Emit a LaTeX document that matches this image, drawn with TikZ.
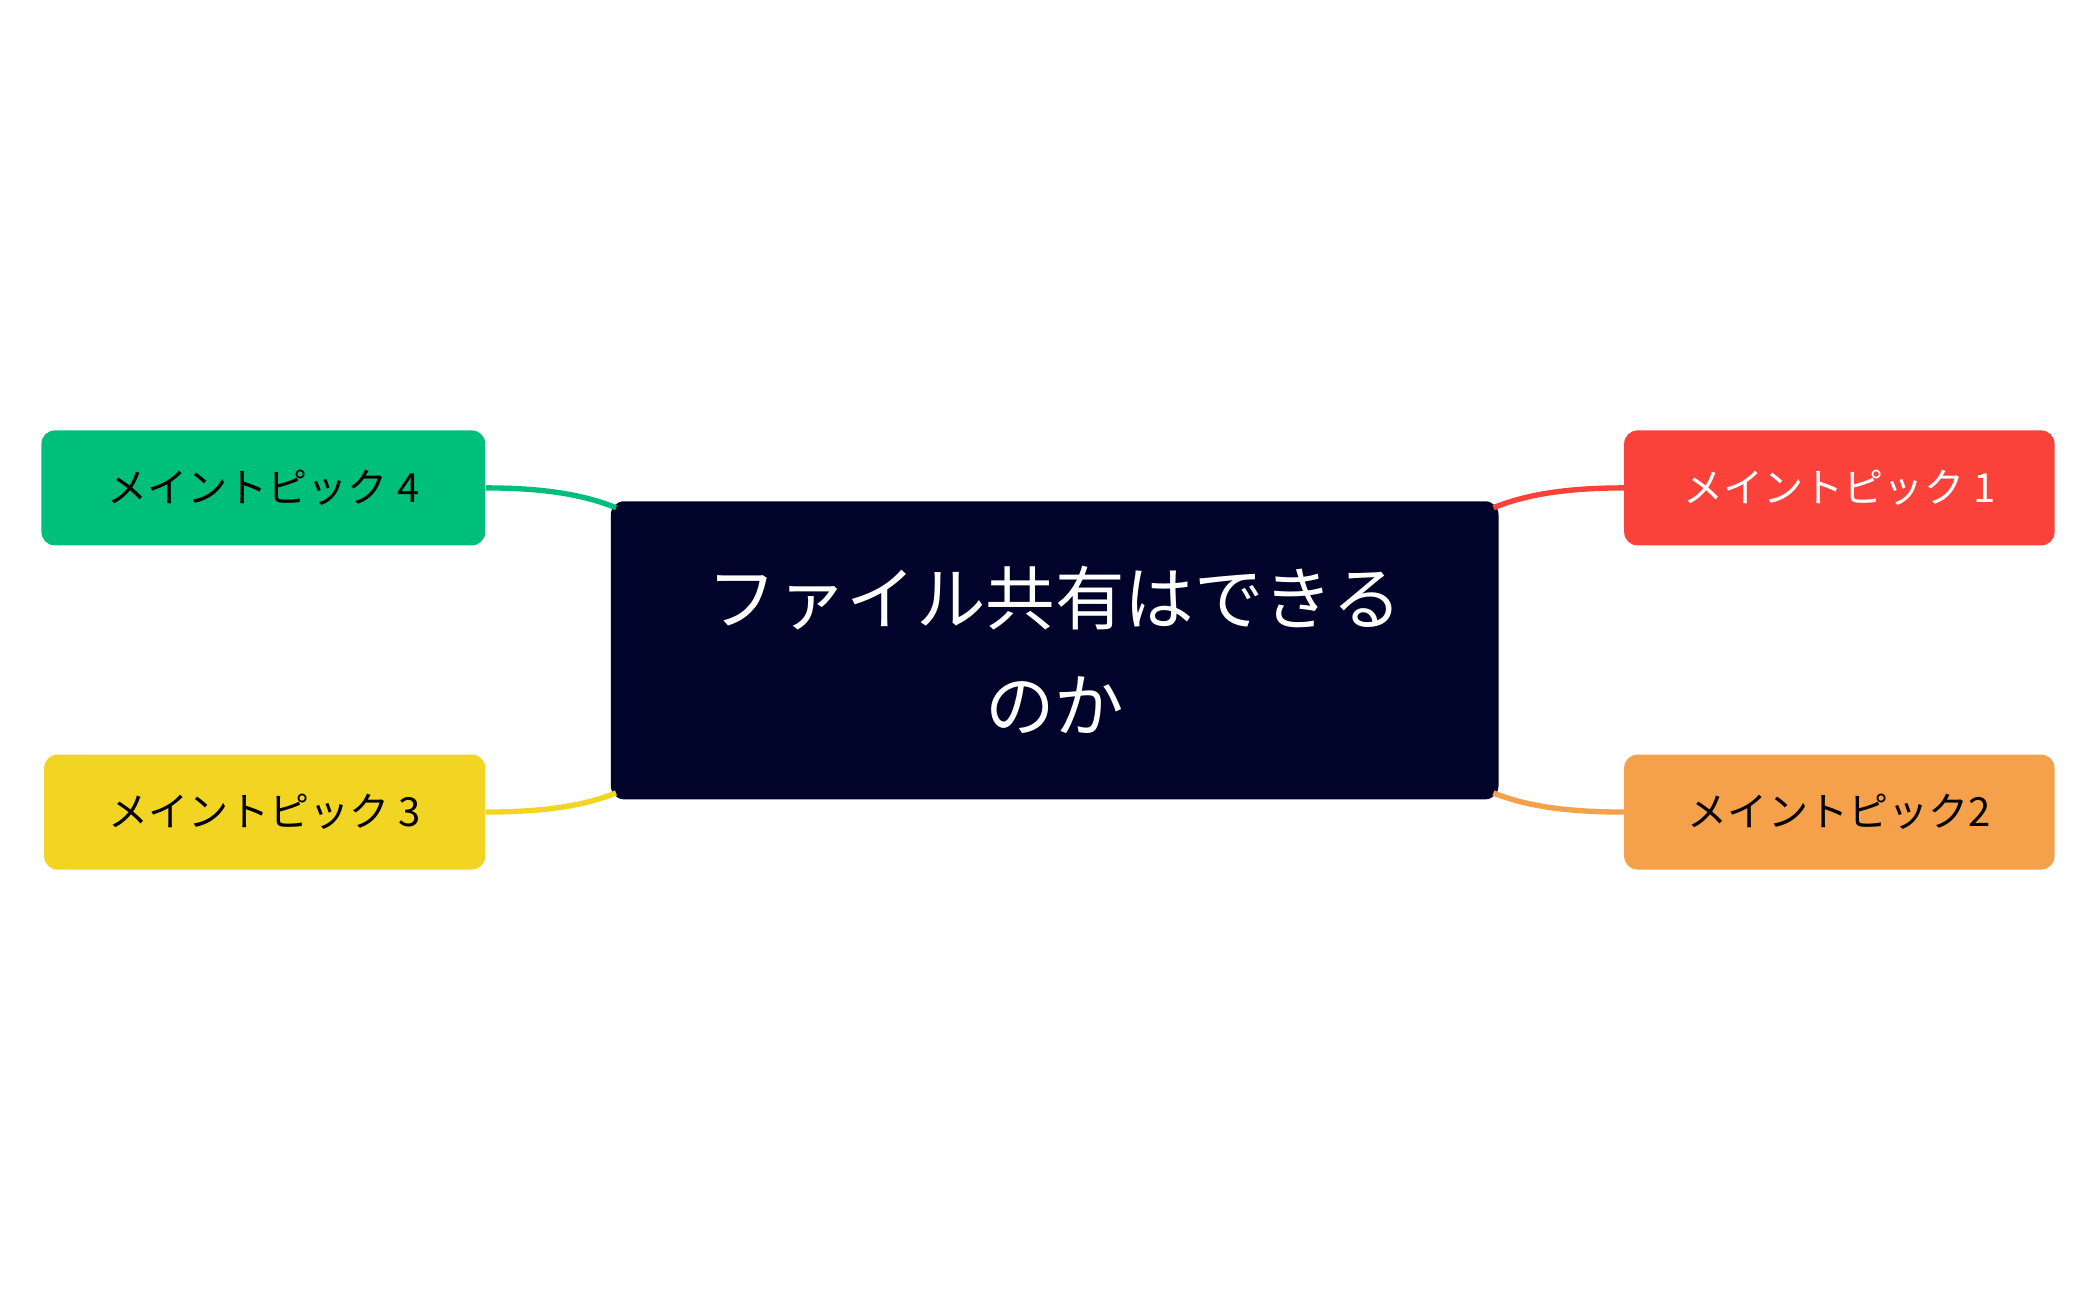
\documentclass[tikz,border=0pt]{standalone}
\usepackage{fontspec}
\setmainfont{Noto Sans CJK JP}
\definecolor{navy}{HTML}{00042A}
\definecolor{tgreen}{HTML}{00BF7A}
\definecolor{tyellow}{HTML}{F2D422}
\definecolor{tred}{HTML}{FA423B}
\definecolor{torange}{HTML}{F5A04B}
\begin{document}
\begin{tikzpicture}[x=1pt,y=1pt,
  topic/.style={rounded corners=10pt,minimum width=330pt,minimum height=86pt,inner sep=0pt,font=\fontsize{30}{36}\selectfont},
  conn/.style={line width=4pt}]
\useasboundingbox (0,0) rectangle (1568,972);
\node[fill=navy,rounded corners=10pt,minimum width=664pt,minimum height=223pt,inner sep=0pt,text width=600pt,align=center,text=white,font=\fontsize{52}{80}\selectfont] (c) at (789,485.5) {ファイル共有はできる\\のか};
\node[topic,fill=tgreen,minimum width=332pt] (t4) at (197,607) {メイントピック 4};
\node[topic,fill=tyellow] (t3) at (198,364.5) {メイントピック 3};
\node[topic,fill=tred,text=white,minimum width=322pt] (t1) at (1376,607) {メイントピック 1};
\node[topic,fill=torange,minimum width=322pt] (t2) at (1376,364.5) {メイントピック2};
\draw[conn,tgreen] (t4.east) .. controls +(50,0) and +(-20,8) .. ([xshift=4pt,yshift=-5pt]c.north west);
\draw[conn,tyellow] (t3.east) .. controls +(50,0) and +(-20,-8) .. ([xshift=4pt,yshift=5pt]c.south west);
\draw[conn,tred] (t1.west) .. controls +(-50,0) and +(20,8) .. ([xshift=-4pt,yshift=-5pt]c.north east);
\draw[conn,torange] (t2.west) .. controls +(-50,0) and +(20,-8) .. ([xshift=-4pt,yshift=5pt]c.south east);
\end{tikzpicture}
\end{document}
